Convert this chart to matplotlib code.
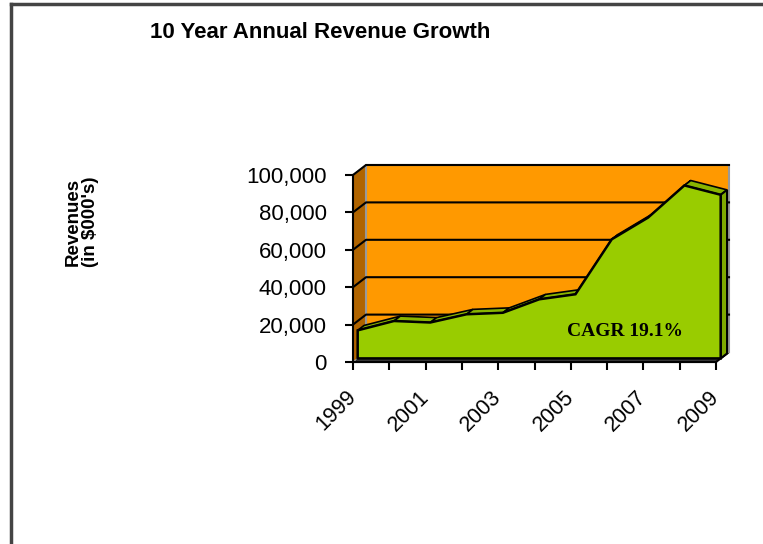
import numpy as np
import matplotlib.pyplot as plt
from matplotlib.patches import Polygon
from matplotlib.lines import Line2D

# Dados
anos = [1999, 2000, 2001, 2002, 2003, 2004, 2005, 2006, 2007, 2008, 2009]
receitas = [15000, 20000, 19200, 23600, 24400, 31600, 34300, 63700, 75300, 92500, 87500]
rotulos_anos = ['1999', '', '2001', '', '2003', '', '2005', '', '2007', '', '2009']
ticks_y = [0, 20000, 40000, 60000, 80000, 100000]

plt.rcParams['font.family'] = ['Liberation Sans', 'DejaVu Sans']

fig = plt.figure(figsize=(7.63, 5.44), dpi=100)
ax = fig.add_axes([353/763, 1 - 362/544, 363/763, 187/544])
ax.set_xlim(1999, 2009)
ax.set_ylim(0, 100000)

# deslocamento da profundidade (efeito 3D) em unidades de dados
DX = 13 * 10 / 363
DY = 10 * 100000 / 187

def P(x, y, f):
    return (x + f * DX, y + f * DY)

x0, x1 = anos[0], anos[-1]

# chão
ax.add_patch(Polygon([P(x0, 0, 0), P(x1, 0, 0), P(x1, 0, 1), P(x0, 0, 1)],
                     facecolor='#3a3a3a', edgecolor='black', lw=1.5, clip_on=False, zorder=1))
# parede lateral
ax.add_patch(Polygon([P(x0, 0, 0), P(x0, 0, 1), P(x0, 100000, 1), P(x0, 100000, 0)],
                     facecolor='#b06400', edgecolor='#999999', lw=1.0, clip_on=False, zorder=1))
# parede do fundo
ax.add_patch(Polygon([P(x0, 0, 1), P(x1, 0, 1), P(x1, 100000, 1), P(x0, 100000, 1)],
                     facecolor='#ff9900', edgecolor='#999999', lw=1.5, clip_on=False, zorder=1))

# linhas de grade
for v in ticks_y[1:]:
    a, b = P(x0, v, 1), P(x1, v, 1)
    c = P(x0, v, 0)
    ax.add_line(Line2D([c[0], a[0], b[0]], [c[1], a[1], b[1]], color='black', lw=1.5,
                       clip_on=False, zorder=2))

# área 3D
f1, f2 = 0.36, 0.85
for i in range(len(anos) - 1):
    faixa = [P(anos[i], receitas[i], f1), P(anos[i+1], receitas[i+1], f1),
             P(anos[i+1], receitas[i+1], f2), P(anos[i], receitas[i], f2)]
    ax.add_patch(Polygon(faixa, facecolor='#88b400', edgecolor='black', lw=1.2,
                         clip_on=False, zorder=3))
lado = [P(x1, 0, f1), P(x1, receitas[-1], f1), P(x1, receitas[-1], f2), P(x1, 0, f2)]
ax.add_patch(Polygon(lado, facecolor='#7fa800', edgecolor='black', lw=1.5, clip_on=False, zorder=3))
frente = [P(x0, 0, f1)] + [P(a, r, f1) for a, r in zip(anos, receitas)] + [P(x1, 0, f1)]
ax.add_patch(Polygon(frente, facecolor='#99cc00', edgecolor='black', lw=1.8,
                     clip_on=False, zorder=4))

ax.text(0.75, 0.165, 'CAGR 19.1%', transform=ax.transAxes, ha='center', va='center',
        fontsize=14, fontweight='bold', family=['Liberation Serif', 'DejaVu Serif'], zorder=5)

# eixos
ax.patch.set_visible(False)
for s in ['top', 'right']:
    ax.spines[s].set_visible(False)
ax.spines['left'].set_linewidth(1.5)
ax.spines['bottom'].set_linewidth(1.5)
ax.spines['left'].set_zorder(6)
ax.spines['bottom'].set_zorder(6)

ax.set_yticks(ticks_y)
ax.set_yticklabels([f'{v:,}' for v in ticks_y], fontsize=16)
ax.set_xticks(anos)
ax.set_xticklabels(rotulos_anos, fontsize=15.5, rotation=45, ha='right', va='center',
                   rotation_mode='anchor')
ax.tick_params(axis='y', length=6, width=1.5, pad=13)
ax.tick_params(axis='x', length=6, width=1.5, pad=17)

# título e rótulo do eixo y
fig.text(320/763, 1 - 33/544, '10 Year Annual Revenue Growth', ha='center', va='center',
         fontsize=16, fontweight='bold')
fig.text(82/763, 1 - 222/544, "Revenues\n(in $000's)", ha='center', va='center',
         rotation=90, fontsize=13.5, fontweight='bold', linespacing=1.0)

# moldura externa
fig.add_artist(Line2D([11/763, 11/763], [0, 1 - 4/544], color='#444444', lw=2.5))
fig.add_artist(Line2D([11/763, 1], [1 - 4/544, 1 - 4/544], color='#444444', lw=2.5))

plt.savefig('out.png', dpi=100)
